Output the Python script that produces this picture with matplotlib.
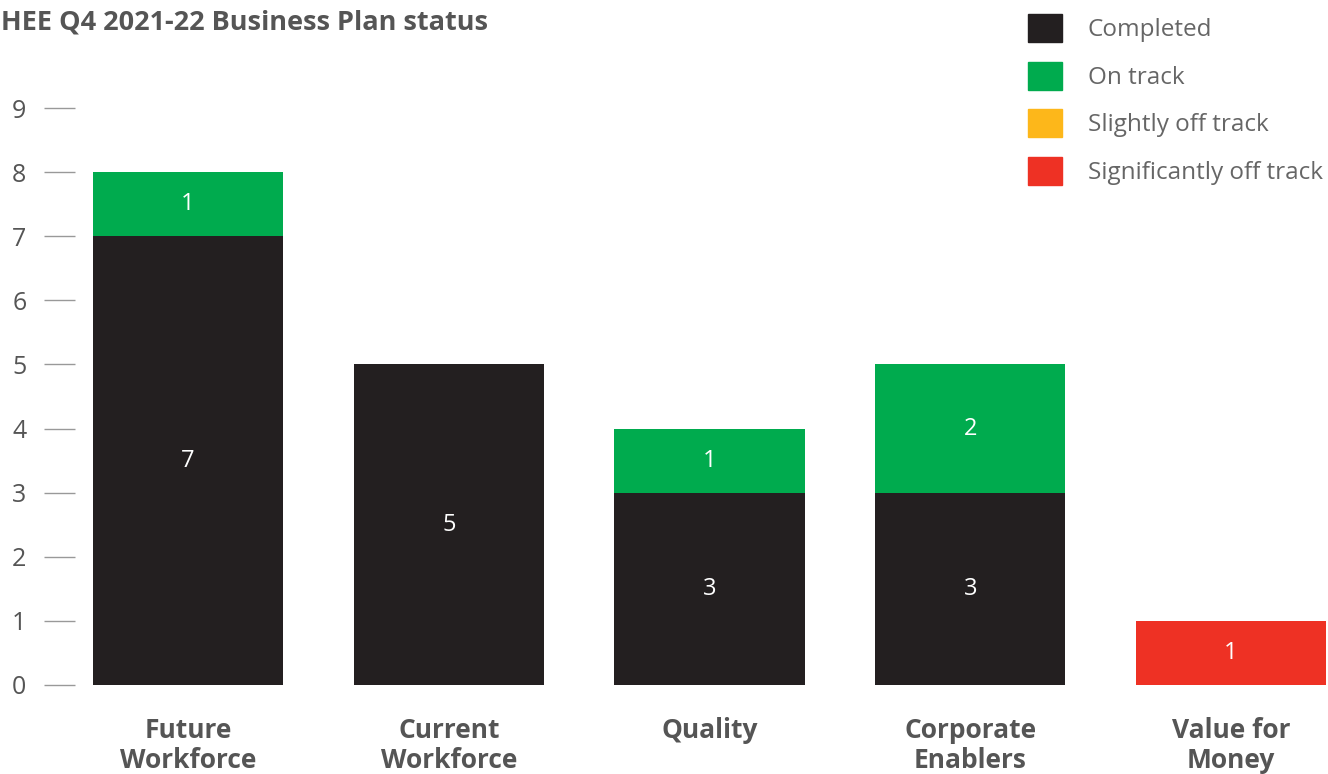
import numpy as np
import matplotlib as mpl
mpl.use('Agg')
import matplotlib.pyplot as plt
from matplotlib.patches import Patch

plt.rcParams['font.family'] = ['Open Sans', 'DejaVu Sans']

categories = ['Future\nWorkforce', 'Current\nWorkforce', 'Quality', 'Corporate\nEnablers', 'Value for\nMoney']
completed = [7, 5, 3, 3, 0]
on_track = [1, 0, 1, 2, 0]
slightly_off = [0, 0, 0, 0, 0]
significantly_off = [0, 0, 0, 0, 1]

series = [('Completed', completed, '#231f20'),
          ('On track', on_track, '#00ab4e'),
          ('Slightly off track', slightly_off, '#fdb71a'),
          ('Significantly off track', significantly_off, '#ee3124')]

W, H = 1328, 774
fig = plt.figure(figsize=(W / 100, H / 100), dpi=100)
ax = fig.add_axes([75 / W, (H - 685) / H, (W - 75) / W, 685 / H])

x = np.arange(len(categories))
bottom = np.zeros(len(categories))
for name, vals, col in series:
    vals = np.array(vals, dtype=float)
    bars = ax.bar(x, vals, 0.73, bottom=bottom, color=col, label=name)
    labs = [str(int(v)) if v > 0 else '' for v in vals]
    ax.bar_label(bars, labels=labs, label_type='center', color='white', fontsize=17)
    bottom += vals

ax.set_xlim(-0.4334, 4.372)
ax.set_ylim(0, 10.685)
ax.set_yticks(range(10))
ax.set_xticks(x)
ax.set_xticklabels(categories, fontsize=19, fontweight='bold', color='#555555', linespacing=1.15)
ax.tick_params(axis='x', length=0, pad=23)
ax.tick_params(axis='y', length=22, width=1, color='#999999', labelsize=18, labelcolor='#555555', pad=13)
for s in ax.spines.values():
    s.set_visible(False)

fig.text(1 / W, 1 - 10 / H, 'HEE Q4 2021-22 Business Plan status', fontsize=19.5, fontweight='bold',
         color='#555555', ha='left', va='top')

handles = [Patch(color=c, label=n) for n, _, c in series]
fig.legend(handles=handles, loc='upper left', bbox_to_anchor=(1028 / W, 1 - 14 / H), frameon=False,
           fontsize=17.5, labelcolor='#666666', handlelength=1.4, handleheight=1.4,
           labelspacing=0.8, handletextpad=1.05, borderpad=0, borderaxespad=0)

fig.savefig('out.png', dpi=100)
